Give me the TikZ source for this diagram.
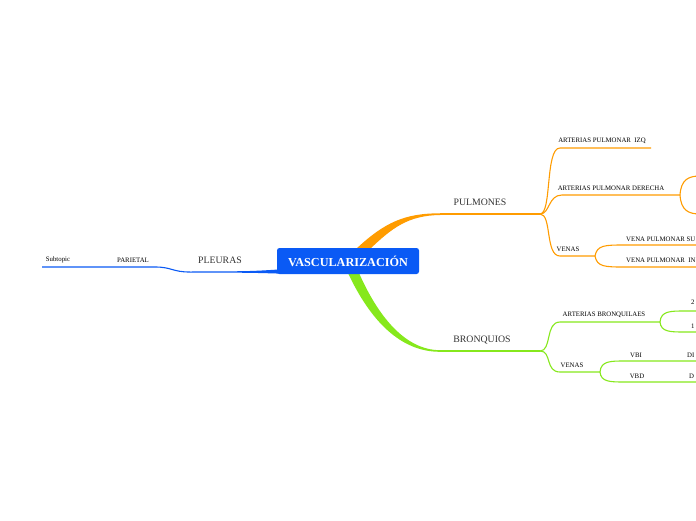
\documentclass[tikz,border=0pt]{standalone}
\usepackage{fontspec}
\setmainfont{Liberation Serif}
\definecolor{cblue}{HTML}{0A5AF5}
\definecolor{corange}{HTML}{FF9C00}
\definecolor{cgreen}{HTML}{86E81C}
\definecolor{ctext}{HTML}{333333}
\begin{document}
\begin{tikzpicture}[x=1pt,y=-1pt,
  small/.style={font=\fontsize{6.8}{8}\selectfont, text=black, inner sep=0pt},
  mid/.style={font=\fontsize{9.8}{11}\selectfont, text=ctext, inner sep=0pt},
  oline/.style={draw=corange, line width=1.1pt},
  gline/.style={draw=cgreen, line width=1.1pt},
  bline/.style={draw=cblue, line width=1.1pt}]
\useasboundingbox (0,0) rectangle (696,520);
\clip (0,0) rectangle (696,520);
\fill[white] (0,0) rectangle (696,520);

% tapered main connectors
\fill[corange] (356,249) .. controls (385,222) and (405,213.3) .. (440,213.3)
  -- (440,215) .. controls (408,215.5) and (392,228) .. (370,249) -- cycle;
\fill[cgreen] (348,273) .. controls (370,320) and (400,351.8) .. (440,351.8)
  -- (440,350.2) .. controls (405,350) and (378,316) .. (359,273) -- cycle;
\fill[cblue] (280,269.4) .. controls (250,271.3) .. (190,271.5)
  -- (190,272.5) .. controls (250,272.7) .. (280,273.6) -- cycle;

% central node
\node[fill=cblue, rounded corners=2.5pt, minimum width=142pt, minimum height=26pt,
  text=white, font=\fontsize{12.2}{14}\selectfont\bfseries, inner sep=0pt]
  (root) at (348,261) {VASCULARIZACIÓN};

% coordinates
\coordinate (pulA) at (440,214); \coordinate (pulB) at (540,214);
\coordinate (broA) at (440,351); \coordinate (broB) at (540,351);
\coordinate (pleA) at (190,272); \coordinate (pleB) at (155,267);
\coordinate (parB) at (42,267);
\coordinate (izqA) at (560,148); \coordinate (izqB) at (651,148);
\coordinate (derA) at (562,195); \coordinate (derB) at (680,195);
\coordinate (derU) at (700,176); \coordinate (derD) at (700,214);
\coordinate (venA) at (560,256); \coordinate (venB) at (595,256);
\coordinate (supA) at (625,245); \coordinate (supB) at (700,245);
\coordinate (infA) at (625,267); \coordinate (infB) at (700,267);
\coordinate (abrA) at (560,322); \coordinate (abrB) at (660,322);
\coordinate (a2A) at (685,311); \coordinate (a2B) at (700,311);
\coordinate (a1A) at (685,332); \coordinate (a1B) at (700,332);
\coordinate (vbrA) at (560,372); \coordinate (vbrB) at (600,372);
\coordinate (vbiA) at (625,361); \coordinate (vbiB) at (700,361);
\coordinate (vbdA) at (625,382); \coordinate (vbdB) at (700,382);

% main underlines
\draw[corange, line width=1.4pt] (pulA) -- (pulB);
\draw[cgreen, line width=1.4pt] (broA) -- (broB);
\draw[bline] (pleA) .. controls (172,272) and (172,267) .. (pleB) -- (parB);

% orange branches
\draw[oline] (pulB) .. controls (552,214) and (545,148) .. (izqA) -- (izqB);
\draw[oline] (pulB) .. controls (550,214) and (548,195) .. (derA) -- (derB);
\draw[oline] (pulB) .. controls (552,214) and (545,256) .. (venA) -- (venB);
\draw[oline] (derB) .. controls (681,180) and (688,176) .. (derU);
\draw[oline] (derB) .. controls (681,210) and (688,214) .. (derD);
\draw[oline] (venB) .. controls (597,245) and (605,245) .. (supA) -- (supB);
\draw[oline] (venB) .. controls (597,267) and (605,267) .. (infA) -- (infB);

% green branches
\draw[gline] (broB) .. controls (552,351) and (545,322) .. (abrA) -- (abrB);
\draw[gline] (broB) .. controls (552,351) and (545,372) .. (vbrA) -- (vbrB);
\draw[gline] (abrB) .. controls (661,311) and (670,311) .. (a2A) -- (a2B);
\draw[gline] (abrB) .. controls (661,332) and (670,332) .. (a1A) -- (a1B);
\draw[gline] (vbrB) .. controls (601,361) and (610,361) .. (vbiA) -- (vbiB);
\draw[gline] (vbrB) .. controls (601,382) and (610,382) .. (vbdA) -- (vbdB);

% labels
\node[mid] (pul) at (480,202) {PULMONES};
\node[mid] (bro) at (482,340) {BRONQUIOS};
\node[mid] (ple) at (220,260) {PLEURAS};
\node[small] (par) at (133,260) {PARIETAL};
\node[small] (sub) at (58,260) {Subtopic};
\node[small] (izq) at (602,141) {ARTERIAS PULMONAR\ \ IZQ};
\node[small] (der) at (611,188) {ARTERIAS PULMONAR DERECHA};
\node[small] (ven) at (568,249) {VENAS};
\node[small, anchor=west] (sup) at (626,239) {VENA PULMONAR SU};
\node[small, anchor=west] (inf) at (626,260) {VENA PULMONAR\ \ IN};
\node[small] (abr) at (604,315) {ARTERIAS BRONQUILAES};
\node[small] (vbr) at (572,365) {VENAS};
\node[small] (vbi) at (636,355) {VBI};
\node[small] (vbd) at (637,376) {VBD};
\node[small, anchor=west] (a2) at (691,302) {2};
\node[small, anchor=west] (a1) at (691,326) {1};
\node[small, anchor=west] (di) at (687,355) {DI};
\node[small, anchor=west] (d) at (689,376) {D};
\end{tikzpicture}
\end{document}
